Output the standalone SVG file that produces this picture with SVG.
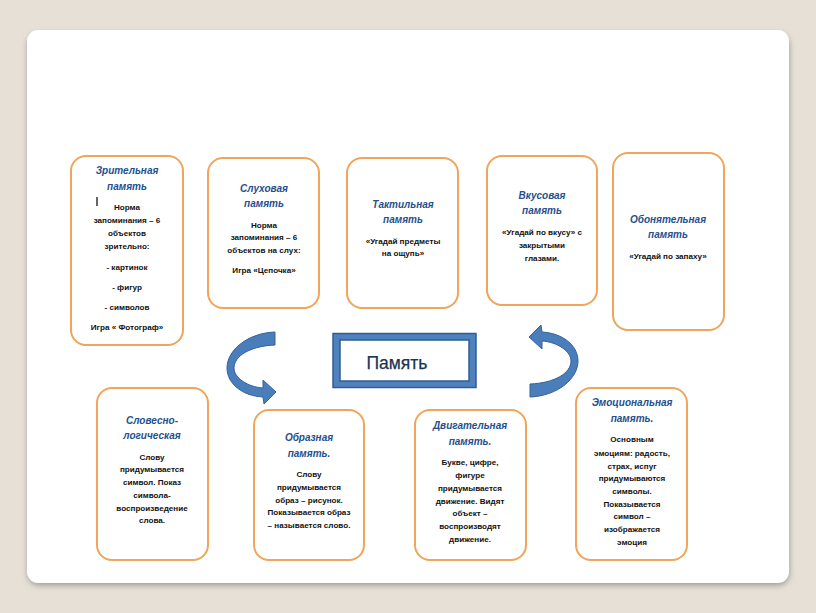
<svg xmlns="http://www.w3.org/2000/svg" width="816" height="613" viewBox="0 0 816 613">
<defs>
<filter id="sh" x="-5%" y="-5%" width="110%" height="110%"><feGaussianBlur stdDeviation="3"/></filter>
<style>
.card{fill:#fff;stroke:#f0a55a;stroke-width:2}
.t{font-family:"Liberation Sans",Arial,sans-serif;font-style:italic;font-weight:bold;font-size:10px;fill:#24508e;text-anchor:middle}
.b{font-family:"Liberation Sans",Arial,sans-serif;font-weight:bold;font-size:8.1px;fill:#111;text-anchor:middle}
.arr{fill:#4a7ebb;stroke:#36609a;stroke-width:1}
</style>
</defs>
<rect x="0" y="0" width="816" height="613" fill="#e6e0d6"/>
<rect x="28" y="34" width="761" height="551" rx="11" fill="#9a958d" filter="url(#sh)"/>
<rect x="27" y="30" width="762" height="553" rx="11" fill="#ffffff"/>

<g id="n-zritel">
<rect class="card" x="71" y="156" width="112" height="189" rx="15"/>
<text class="t" x="127" y="174">Зрительная</text>
<text class="t" x="127" y="190">память</text>
<line x1="97" y1="197" x2="97" y2="206" stroke="#111" stroke-width="1.3"/>
<text class="b" x="127" y="210">Норма</text>
<text class="b" x="127" y="223">запоминания – 6</text>
<text class="b" x="127" y="236">объектов</text>
<text class="b" x="127" y="249">зрительно:</text>
<text class="b" x="127" y="270">- картинок</text>
<text class="b" x="127" y="290">- фигур</text>
<text class="b" x="127" y="310">- символов</text>
<text class="b" x="127" y="330">Игра « Фотограф»</text>
</g>

<g id="n-sluh">
<rect class="card" x="208" y="158" width="111" height="150" rx="15"/>
<text class="t" x="264" y="192">Слуховая</text>
<text class="t" x="264" y="207">память</text>
<text class="b" x="264" y="228">Норма</text>
<text class="b" x="264" y="240">запоминания – 6</text>
<text class="b" x="264" y="253">объектов на слух:</text>
<text class="b" x="264" y="273">Игра «Цепочка»</text>
</g>

<g id="n-takt">
<rect class="card" x="347" y="158" width="111" height="150" rx="15"/>
<text class="t" x="403" y="208">Тактильная</text>
<text class="t" x="403" y="223">память</text>
<text class="b" x="403" y="244">«Угадай предметы</text>
<text class="b" x="403" y="256">на ощупь»</text>
</g>

<g id="n-vkus">
<rect class="card" x="487" y="156" width="110" height="149" rx="15"/>
<text class="t" x="542" y="199">Вкусовая</text>
<text class="t" x="542" y="214">память</text>
<text class="b" x="542" y="235">«Угадай по вкусу» с</text>
<text class="b" x="542" y="248">закрытыми</text>
<text class="b" x="542" y="261">глазами.</text>
</g>

<g id="n-obon">
<rect class="card" x="613" y="153" width="111" height="177" rx="15"/>
<text class="t" x="668" y="223">Обонятельная</text>
<text class="t" x="668" y="238">память</text>
<text class="b" x="668" y="259">«Угадай по запаху»</text>
</g>

<g id="n-pamyat">
<rect x="333" y="333.5" width="143" height="54" fill="#4f81bd" stroke="#2f5d94" stroke-width="1.5"/>
<rect x="340" y="340" width="129" height="41" fill="#ffffff" stroke="#2f5d94" stroke-width="1.5"/>
<text x="397" y="369" font-family="'Liberation Sans',Arial,sans-serif" font-size="17.5" fill="#1c3354" stroke="#1c3354" stroke-width="0.25" text-anchor="middle">Память</text>
</g>

<g id="connectors">
<path class="arr" d="M275 332 C248 333 227 350 227 368 C227 384 243 396 263 397 L264 404 L276 392 L263 380 L263 388 C248 387 234 378 234 368 C234 356 250 346 275 345 Z"/>
<path class="arr" transform="rotate(180 402.5 364.5)" d="M275 332 C248 333 227 350 227 368 C227 384 243 396 263 397 L264 404 L276 392 L263 380 L263 388 C248 387 234 378 234 368 C234 356 250 346 275 345 Z"/>
</g>

<g id="n-slovesno">
<rect class="card" x="97" y="388" width="111" height="172" rx="15"/>
<text class="t" x="152" y="424">Словесно-</text>
<text class="t" x="152" y="439">логическая</text>
<text class="b" x="152" y="460">Слову</text>
<text class="b" x="152" y="472">придумывается</text>
<text class="b" x="152" y="485">символ. Показ</text>
<text class="b" x="152" y="498">символа-</text>
<text class="b" x="152" y="511">воспроизведение</text>
<text class="b" x="152" y="523">слова.</text>
</g>

<g id="n-obraz">
<rect class="card" x="254" y="410" width="110" height="150" rx="15"/>
<text class="t" x="309" y="441">Образная</text>
<text class="t" x="309" y="457">память.</text>
<text class="b" x="309" y="477">Слову</text>
<text class="b" x="309" y="490">придумывается</text>
<text class="b" x="309" y="503">образ – рисунок.</text>
<text class="b" x="309" y="515">Показывается образ</text>
<text class="b" x="309" y="528">– называется слово.</text>
</g>

<g id="n-dvig">
<rect class="card" x="415" y="410" width="111" height="150" rx="15"/>
<text class="t" x="470" y="429">Двигательная</text>
<text class="t" x="470" y="445">память.</text>
<text class="b" x="470" y="465">Букве, цифре,</text>
<text class="b" x="470" y="478">фигуре</text>
<text class="b" x="470" y="491">придумывается</text>
<text class="b" x="470" y="504">движение. Видят</text>
<text class="b" x="470" y="516">объект –</text>
<text class="b" x="470" y="529">воспроизводят</text>
<text class="b" x="470" y="542">движение.</text>
</g>

<g id="n-emoc">
<rect class="card" x="576" y="388" width="111" height="172" rx="15"/>
<text class="t" x="632" y="406">Эмоциональная</text>
<text class="t" x="632" y="422">память.</text>
<text class="b" x="632" y="442">Основным</text>
<text class="b" x="632" y="456">эмоциям: радость,</text>
<text class="b" x="632" y="469">страх, испуг</text>
<text class="b" x="632" y="481">придумываются</text>
<text class="b" x="632" y="494">символы.</text>
<text class="b" x="632" y="507">Показывается</text>
<text class="b" x="632" y="519">символ –</text>
<text class="b" x="632" y="532">изображается</text>
<text class="b" x="632" y="545">эмоция</text>
</g>
</svg>
